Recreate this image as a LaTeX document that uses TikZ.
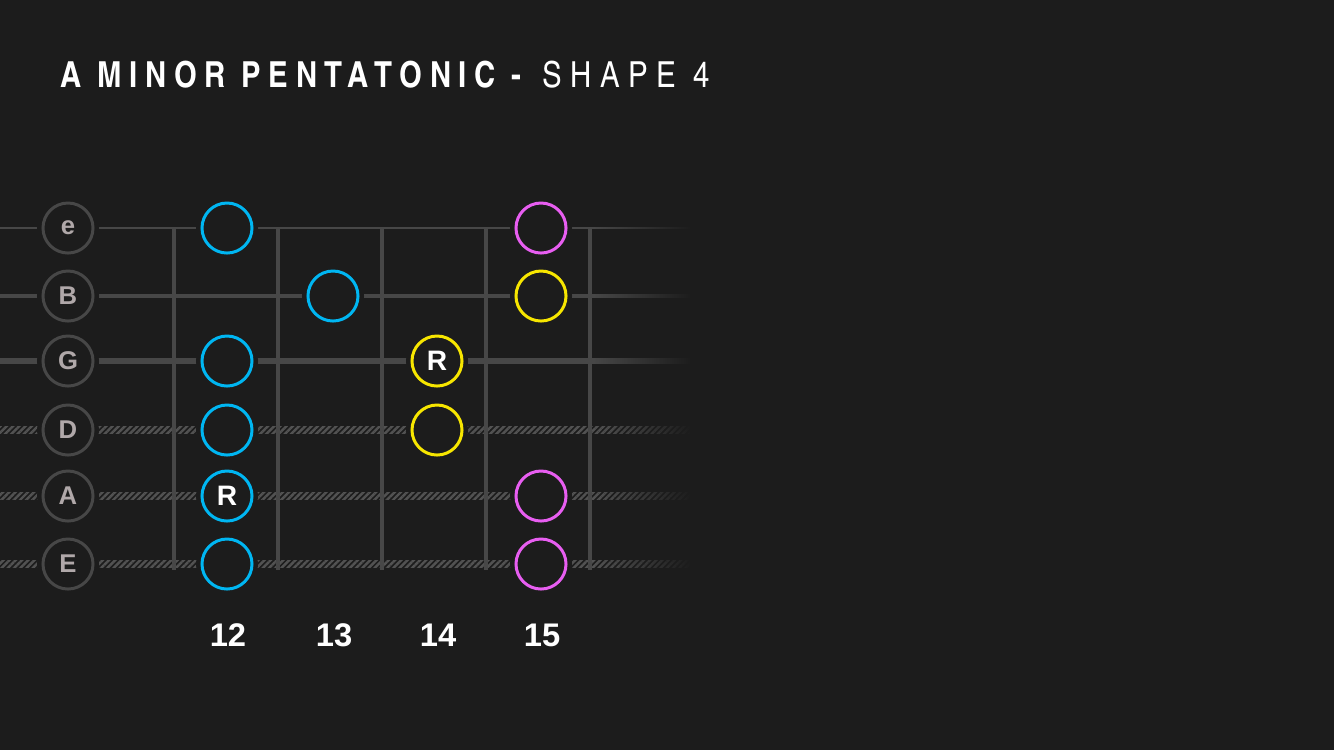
\documentclass[tikz,border=0pt]{standalone}
\usepackage{fontspec}
\setmainfont{Liberation Sans}
\newfontfamily\titlefont{texgyreheroscn}[Extension=.otf, UprightFont=*-regular, BoldFont=*-bold, LetterSpace=21]
\usepackage{xcolor}
\usetikzlibrary{patterns.meta}
\usetikzlibrary{fadings}

\definecolor{bg}{HTML}{1C1C1C}
\definecolor{strcol}{HTML}{474747}
\definecolor{windcol}{HTML}{525252}
\definecolor{lblcol}{HTML}{B0A8A9}
\definecolor{notebl}{HTML}{00B6F2}
\definecolor{notepk}{HTML}{E85EF1}
\definecolor{noteyl}{HTML}{F7E600}

\tikzset{
  halo/.style={preaction={draw=bg, line width=3.4pt}},
  strlbl/.style={circle, halo, fill=bg, draw=strcol, line width=0.85pt, minimum size=0.5cm, inner sep=0pt,
    text=lblcol, font=\fontsize{7.3}{8}\selectfont\bfseries},
  note/.style={circle, halo, fill=bg, line width=0.85pt, minimum size=0.5cm, inner sep=0pt,
    text=white, font=\fontsize{8}{9}\selectfont\bfseries},
  fret/.style={draw=strcol, line width=1pt},
  fretnum/.style={text=white, font=\fontsize{9.3}{10}\selectfont\bfseries},
  wound/.style={pattern={Lines[angle=45, distance=1.25pt, line width=0.7pt]}, pattern color=windcol}
}

\begin{document}
\begin{tikzpicture}[x=0.01cm, y=-0.01cm]
	\fill[bg] (0,0) rectangle (1334,750);
	\useasboundingbox (0,0) rectangle (1334,750);

	\node[anchor=base west, inner sep=0pt, text=white, font=\titlefont\fontsize{10.2}{12}\selectfont] (title) at (60,87)
		{\bfseries A MINOR PENTATONIC -\mdseries\ \hspace{1.5pt}\addfontfeature{LetterSpace=24}SHAPE 4};

	% strings
	\draw[strcol, line width=0.6pt] (0,228) -- (690,228);
	\draw[strcol, line width=1.1pt] (0,296) -- (690,296);
	\draw[strcol, line width=1.5pt] (0,361) -- (690,361);
	\foreach \y in {430,496,564}
		\fill[wound] (0,\y-3.8) rectangle (690,\y+3.8);

	% frets
	\foreach \x in {174,278,382,486,590}
		\draw[fret] (\x,228) -- (\x,570);

	% fade out to the right
	\fill[bg, path fading=west] (594,200) rectangle (692,590);

	% string names
	\node[strlbl] (le) at (68,228) {e};
	\node[strlbl] (lB) at (68,296) {B};
	\node[strlbl] (lG) at (68,361) {G};
	\node[strlbl] (lD) at (68,430) {D};
	\node[strlbl] (lA) at (68,496) {A};
	\node[strlbl] (lE) at (68,564) {E};

	% notes
	\node[note, draw=notebl] (e12) at (227,228) {};
	\node[note, draw=notebl] (G12) at (227,361) {};
	\node[note, draw=notebl] (D12) at (227,430) {};
	\node[note, draw=notebl] (A12) at (227,496) {R};
	\node[note, draw=notebl] (E12) at (227,564) {};
	\node[note, draw=notebl] (B13) at (333,296) {};
	\node[note, draw=noteyl] (G14) at (437,361) {R};
	\node[note, draw=noteyl] (D14) at (437,430) {};
	\node[note, draw=noteyl] (B15) at (541,296) {};
	\node[note, draw=notepk] (e15) at (541,228) {};
	\node[note, draw=notepk] (A15) at (541,496) {};
	\node[note, draw=notepk] (E15) at (541,564) {};

	% fret numbers
	\node[fretnum] (f12) at (228,635) {12};
	\node[fretnum] (f13) at (334,635) {13};
	\node[fretnum] (f14) at (438,635) {14};
	\node[fretnum] (f15) at (542,635) {15};
\end{tikzpicture}
\end{document}
